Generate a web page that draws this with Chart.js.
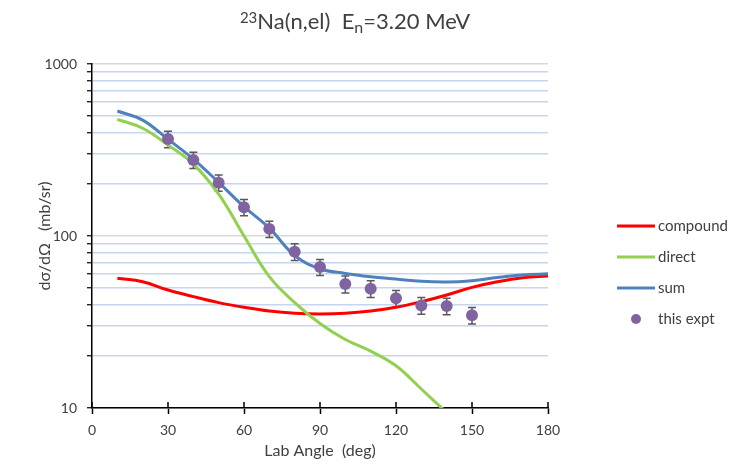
<!DOCTYPE html>
<html>
<head>
<meta charset="utf-8">
<script src="https://cdn.jsdelivr.net/npm/chart.js@4"></script>
<style>
  body { margin: 0; background: #fff; }
  canvas { display: block; }
</style>
</head>
<body>
<canvas id="xsec" width="739" height="471"></canvas>
<script>
// 23Na(n,el) angular distribution, En = 3.20 MeV
var angles = [10, 20, 30, 40, 50, 60, 70, 80, 90, 100, 110, 120, 130, 140, 150, 160, 170, 180];
var compound = [56.8, 54.2, 48.5, 44.4, 41.0, 38.5, 36.6, 35.5, 35.2, 35.5, 36.6, 38.5, 41.5, 45.4, 50.3, 54.2, 57.2, 58.5];
var directAngles = [10, 20, 30, 40, 50, 60, 70, 80, 90, 100, 110, 120, 130, 140];
var direct = [477, 423, 338, 262, 175, 100, 58, 41, 31, 25, 21.4, 17.6, 12.9, 9.4];
var sum = [533, 472, 365, 280, 205, 148, 111, 77, 64.5, 60.6, 58, 56.2, 54.5, 54, 55, 57.4, 59.4, 60.3];

var exptAngles = [30, 40, 50, 60, 70, 80, 90, 100, 110, 120, 130, 140, 150];
var expt = [366, 277, 204, 147, 110, 81, 66, 52.6, 49.4, 43.4, 39.5, 39.2, 34.6];
var exptErr = [40, 30, 22, 16, 12, 9, 7, 6, 5.5, 4.8, 4.4, 4.3, 3.8];

var xTicks = [0, 30, 60, 90, 120, 150, 180];
var yTicks = [10, 20, 30, 40, 50, 60, 70, 80, 90, 100, 200, 300, 400, 500, 600, 700, 800, 900, 1000];
var yLabels = [10, 100, 1000];

var FONT = 'Lato, "Noto Sans", sans-serif';
var TEXT = '#404040';

function points(xs, ys) {
  return xs.map(function (x, i) { return { x: x, y: ys[i] }; });
}

// vertical error bars with caps, behind the markers
var errorBars = {
  id: 'errorBars',
  beforeDatasetsDraw: function (chart) {
    var ctx = chart.ctx, xs = chart.scales.x, ys = chart.scales.y;
    ctx.save();
    ctx.strokeStyle = '#595959';
    ctx.lineWidth = 1.5;
    exptAngles.forEach(function (a, i) {
      var px = xs.getPixelForValue(a);
      var top = ys.getPixelForValue(expt[i] + exptErr[i]);
      var bot = ys.getPixelForValue(expt[i] - exptErr[i]);
      ctx.beginPath();
      ctx.moveTo(px, top); ctx.lineTo(px, bot);
      ctx.moveTo(px - 4, top); ctx.lineTo(px + 4, top);
      ctx.moveTo(px - 4, bot); ctx.lineTo(px + 4, bot);
      ctx.stroke();
    });
    ctx.restore();
  }
};

// x tick marks cross the axis: add the inner half
var crossTicks = {
  id: 'crossTicks',
  afterDraw: function (chart) {
    var ctx = chart.ctx, xs = chart.scales.x, bottom = chart.chartArea.bottom;
    ctx.save();
    ctx.strokeStyle = '#000';
    ctx.lineWidth = 1.5;
    xs.ticks.forEach(function (t) {
      var px = xs.getPixelForValue(t.value);
      ctx.beginPath();
      ctx.moveTo(px, bottom);
      ctx.lineTo(px, bottom - 6);
      ctx.stroke();
    });
    ctx.restore();
  }
};

// title with superscript mass number and subscript n
var richTitle = {
  id: 'richTitle',
  afterDraw: function (chart) {
    var ctx = chart.ctx;
    var parts = [
      { t: '23', size: 15, dy: -6 },
      { t: 'Na(n,el)  E', size: 22, dy: 0 },
      { t: 'n', size: 16, dy: 4 },
      { t: '=3.20 MeV', size: 22, dy: 0 }
    ];
    ctx.save();
    ctx.fillStyle = TEXT;
    ctx.textBaseline = 'alphabetic';
    var total = 0;
    parts.forEach(function (p) {
      ctx.font = p.size + 'px ' + FONT;
      p.w = ctx.measureText(p.t).width;
      total += p.w;
    });
    var x = 355 - total / 2, base = 29;
    parts.forEach(function (p) {
      ctx.font = p.size + 'px ' + FONT;
      ctx.fillText(p.t, x, base + p.dy);
      x += p.w;
    });
    ctx.restore();
  }
};

// legend on the right, built from the datasets
var sideLegend = {
  id: 'sideLegend',
  afterDraw: function (chart) {
    var ctx = chart.ctx;
    var rows = [226, 257, 288, 319];
    ctx.save();
    ctx.font = '15px ' + FONT;
    ctx.textBaseline = 'middle';
    chart.data.datasets.forEach(function (ds) {
      var y = rows[ds.legendRow];
      if (ds.showLine === false) {
        ctx.fillStyle = ds.backgroundColor;
        ctx.beginPath();
        ctx.arc(636, y, 5, 0, Math.PI * 2);
        ctx.fill();
      } else {
        ctx.strokeStyle = ds.borderColor;
        ctx.lineWidth = 3;
        ctx.beginPath();
        ctx.moveTo(617, y); ctx.lineTo(655, y);
        ctx.stroke();
      }
      ctx.fillStyle = TEXT;
      ctx.fillText(ds.label, 658, y);
    });
    ctx.restore();
  }
};

new Chart(document.getElementById('xsec'), {
  type: 'line',
  data: {
    datasets: [
      {
        label: 'this expt', legendRow: 3, order: 0,
        data: points(exptAngles, expt),
        showLine: false,
        backgroundColor: '#8064a2', borderColor: '#8064a2',
        pointRadius: 6, pointBorderWidth: 0, pointHoverRadius: 6
      },
      {
        label: 'sum', legendRow: 2, order: 1,
        data: points(angles, sum),
        borderColor: '#4f81bd', borderWidth: 3, pointRadius: 0, tension: 0.4
      },
      {
        label: 'direct', legendRow: 1, order: 2,
        data: points(directAngles, direct),
        borderColor: '#92d050', borderWidth: 3, pointRadius: 0, tension: 0.4
      },
      {
        label: 'compound', legendRow: 0, order: 3,
        data: points(angles, compound),
        borderColor: '#ff0000', borderWidth: 3, pointRadius: 0, tension: 0.4
      }
    ]
  },
  options: {
    responsive: false,
    animation: false,
    layout: { padding: { top: 64, right: 191, left: 0, bottom: 0 } },
    plugins: {
      legend: { display: false },
      title: { display: false },
      tooltip: { enabled: false }
    },
    scales: {
      x: {
        type: 'linear', min: 0, max: 180,
        afterBuildTicks: function (s) { s.ticks = xTicks.map(function (v) { return { value: v }; }); },
        afterFit: function (s) { s.height = 63; },
        grid: { drawOnChartArea: false, tickColor: '#000', tickLength: 6, tickWidth: 1.5 },
        border: { color: '#000', width: 1.5 },
        ticks: { padding: 8, autoSkip: false, maxRotation: 0, color: TEXT, font: { family: FONT, size: 14 } },
        title: { display: true, text: 'Lab Angle  (deg)', color: TEXT, font: { family: FONT, size: 16 }, padding: { bottom: 11 } }
      },
      y: {
        type: 'logarithmic', min: 10, max: 1000,
        afterBuildTicks: function (s) { s.ticks = yTicks.map(function (v) { return { value: v }; }); },
        afterFit: function (s) { s.width = 92; },
        grid: {
          color: function (c) {
            var v = c.tick ? c.tick.value : 0;
            return (v === 100 || v === 1000) ? '#d9d9d9' : '#c6d6ee';
          },
          lineWidth: 1.5,
          tickColor: '#000', tickLength: 5, tickWidth: 1.2
        },
        border: { color: '#000', width: 1.5 },
        ticks: {
          autoSkip: false, padding: 10, color: TEXT, font: { family: FONT, size: 14 },
          callback: function (v) { return yLabels.indexOf(v) >= 0 ? String(v) : ''; }
        },
        title: { display: true, text: 'dσ/dΩ   (mb/sr)', color: TEXT, font: { family: FONT, size: 16 }, padding: { top: 35 } }
      }
    }
  },
  plugins: [errorBars, crossTicks, richTitle, sideLegend]
});
</script>
</body>
</html>
